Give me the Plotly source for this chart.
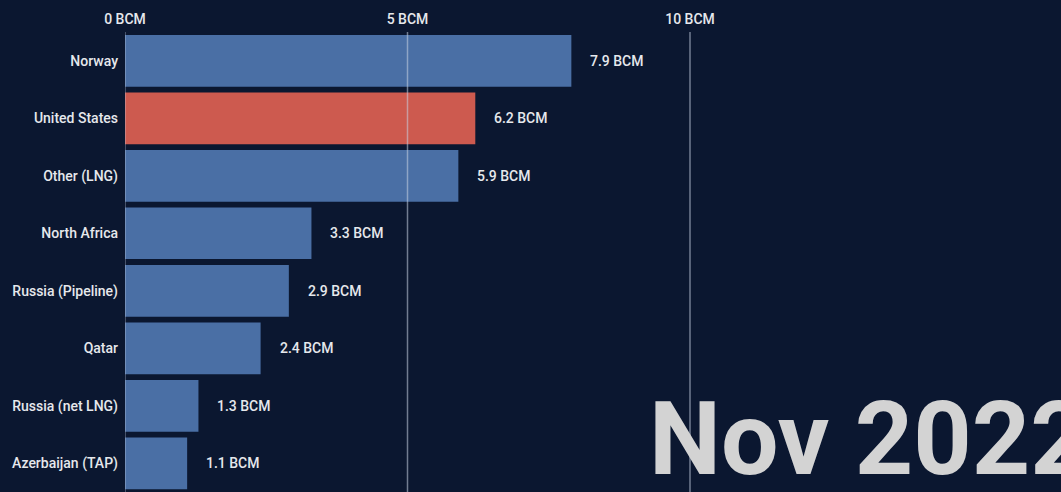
import plotly.graph_objects as go

# Monthly gas supply by source (billion cubic metres)
sources = [
    "Norway",
    "United States",
    "Other (LNG)",
    "North Africa",
    "Russia (Pipeline)",
    "Qatar",
    "Russia (net LNG)",
    "Azerbaijan (TAP)",
]
volumes_bcm = [7.9, 6.2, 5.9, 3.3, 2.9, 2.4, 1.3, 1.1]
period_label = "Nov 2022"
grid_ticks = [0, 5, 10]
tick_text = ["0 BCM", "5 BCM", "10 BCM"]

BG = "#0b1730"
BLUE = "#4a6fa5"
RED = "#cd5a4f"
TEXT = "#e6e8ec"
highlight = "United States"

colors = [RED if s == highlight else BLUE for s in sources]

fig = go.Figure()
fig.add_trace(
    go.Bar(
        x=volumes_bcm,
        y=sources,
        orientation="h",
        marker=dict(color=colors, line=dict(width=0)),
        hoverinfo="skip",
    )
)

# value labels just past the end of each bar
for s, v in zip(sources, volumes_bcm):
    fig.add_annotation(
        x=v, y=s, xref="x", yref="y",
        text=f"{v:.1f} BCM",
        showarrow=False,
        xanchor="left", xshift=17,
        font=dict(family="Roboto", size=14, color=TEXT, weight=500),
    )

# vertical reference lines drawn over the bars
for t in grid_ticks:
    fig.add_shape(
        type="line", xref="x", yref="paper",
        x0=t, x1=t, y0=0, y1=1,
        line=dict(color="rgba(200,210,225,0.55)", width=1.5 if t else 1.2),
        layer="above",
    )

# large period stamp in the lower right corner
fig.add_annotation(
    x=0.5577, y=0.115, xref="paper", yref="paper",
    text=f"<b>{period_label}</b>",
    showarrow=False,
    xanchor="left", yanchor="middle",
    font=dict(family="Roboto", size=102, color="#d3d3d3"),
)

x_max = (1061 - 125) / 56.5

fig.update_layout(
    width=1061, height=492,
    margin=dict(l=125, r=0, t=32, b=0),
    paper_bgcolor=BG, plot_bgcolor=BG,
    bargap=0.1,
    showlegend=False,
    xaxis=dict(
        side="top",
        range=[0, x_max],
        tickvals=grid_ticks,
        ticktext=tick_text,
        showgrid=False,
        zeroline=False,
        showline=False,
        ticks="",
        ticklabelstandoff=4,
        tickfont=dict(family="Roboto", size=14, color=TEXT, weight=500),
    ),
    yaxis=dict(
        categoryorder="array",
        categoryarray=sources,
        autorange="reversed",
        showgrid=False,
        zeroline=False,
        showline=False,
        ticks="",
        ticklabelstandoff=6,
        tickfont=dict(family="Roboto", size=14, color=TEXT, weight=500),
    ),
)

fig.write_html("out.html")
